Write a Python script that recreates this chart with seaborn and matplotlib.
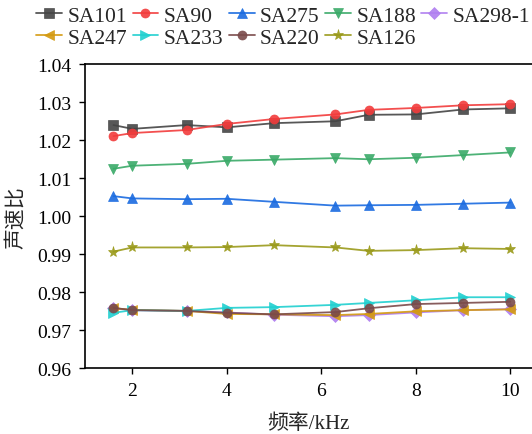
import matplotlib
matplotlib.use("Agg")
import matplotlib.pyplot as plt
import seaborn as sns
import pandas as pd

freq = [1.6, 2, 3.15, 4, 5, 6.3, 7, 8, 9, 10]
series_names = ["SA101", "SA90", "SA275", "SA188", "SA298-1",
                "SA247", "SA233", "SA220", "SA126"]
SA101 = [1.0240, 1.0230, 1.0240, 1.0234, 1.0245, 1.0250, 1.0267, 1.0268, 1.0281, 1.0284]
SA90 = [1.0211, 1.0219, 1.0227, 1.0243, 1.0256, 1.0268, 1.0280, 1.0285, 1.0292, 1.0295]
SA275 = [1.0053, 1.0047, 1.0045, 1.0046, 1.0038, 1.0028, 1.0029, 1.0030, 1.0033, 1.0036]
SA188 = [1.0125, 1.0133, 1.0138, 1.0146, 1.0149, 1.0153, 1.0150, 1.0154, 1.0161, 1.0168]
SA298_1 = [0.9758, 0.9753, 0.9751, 0.9747, 0.9741, 0.9737, 0.9740, 0.9747, 0.9753, 0.9756]
SA247 = [0.9758, 0.9754, 0.9751, 0.9743, 0.9742, 0.9740, 0.9743, 0.9750, 0.9753, 0.9755]
SA233 = [0.9746, 0.9753, 0.9751, 0.9759, 0.9761, 0.9767, 0.9772, 0.9779, 0.9787, 0.9787]
SA220 = [0.9759, 0.9753, 0.9751, 0.9746, 0.9742, 0.9748, 0.9758, 0.9769, 0.9772, 0.9775]
SA126 = [0.9907, 0.9918, 0.9918, 0.9919, 0.9924, 0.9918, 0.9909, 0.9911, 0.9916, 0.9914]
values = [SA101, SA90, SA275, SA188, SA298_1, SA247, SA233, SA220, SA126]

colors = ["#454545", "#f23c3c", "#1a6be0", "#3aaa68", "#b07ff0",
          "#d49a10", "#20d0d0", "#7a4a4a", "#9a9a1a"]
markers = ["s", "o", "^", "v", "D", "<", ">", "o", "*"]

rows = []
for name, vals in zip(series_names, values):
    for f, v in zip(freq, vals):
        rows.append({"freq": f, "ratio": v, "series": name})
df = pd.DataFrame(rows)

sns.set_theme(style="ticks")
plt.rcParams["font.family"] = ["Liberation Serif", "Noto Sans CJK SC"]

fig = plt.figure(figsize=(5.32, 4.35), dpi=100)
ax = fig.add_axes([0.16, 0.151, 0.84, 0.699])

for name, c, m in zip(series_names, colors, markers):
    sub = df[df["series"] == name]
    sns.lineplot(data=sub, x="freq", y="ratio", ax=ax, color=c, marker=m,
                 markersize=8 if m == "*" else 6.5, markeredgewidth=0.5,
                 markeredgecolor=c, linewidth=1.3, label=name,
                 legend=False, alpha=0.9)

ax.set_xlim(1.0, 10.46)
ax.set_ylim(0.96, 1.04)
ax.set_xticks([2, 4, 6, 8, 10])
yt = [0.96, 0.97, 0.98, 0.99, 1.00, 1.01, 1.02, 1.03, 1.04]
ax.set_yticks(yt)
ax.set_yticklabels([f"{v:.2f}" for v in yt])
ax.tick_params(axis="both", direction="out", length=4, width=1, labelsize=14,
               colors="black", pad=6)
for s in ["left", "bottom", "top"]:
    ax.spines[s].set_color("black")
    ax.spines[s].set_linewidth(1.2)
ax.spines["right"].set_visible(False)
ax.set_xlabel("频率/kHz", fontsize=15, labelpad=10)
ax.set_ylabel("声速比", fontsize=15, labelpad=8)

handles, labels = ax.get_legend_handles_labels()
order = [0, 5, 1, 6, 2, 7, 3, 8, 4]
fig.legend([handles[i] for i in order], [labels[i] for i in order],
           ncol=5, loc="upper left",
           bbox_to_anchor=(0.044, 1.014), frameon=False, fontsize=15.5,
           handlelength=1.2, handletextpad=0.25, columnspacing=0.25,
           labelspacing=0.08, borderaxespad=0.2)

fig.savefig("out.png", dpi=100)
